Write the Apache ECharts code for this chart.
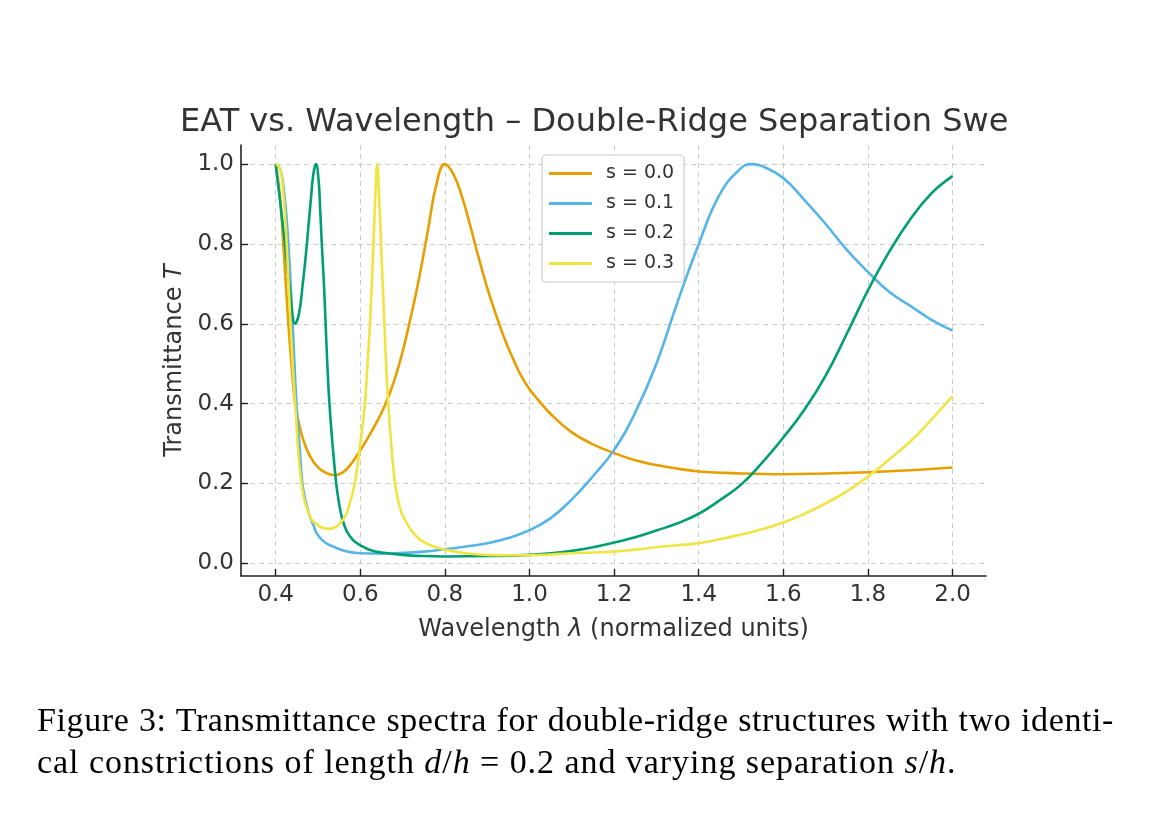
<!DOCTYPE html>
<html>
<head>
<meta charset="utf-8">
<script src="https://cdn.jsdelivr.net/npm/echarts@6/dist/echarts.min.js"></script>
<style>
  html, body { margin: 0; padding: 0; background: #fff; }
  #chart { position: absolute; left: 0; top: 0; width: 1150px; height: 820px; }
  #caption { position: absolute; left: 37px; top: 699px; width: 1077px;
    font-family: "Liberation Serif", "DejaVu Serif", serif; font-size: 34px; color: #000;
    line-height: 42px; letter-spacing: 0.6px; }
  #caption .l1 { text-align: justify; text-align-last: justify; white-space: nowrap; }
  #caption .l2 { white-space: nowrap; letter-spacing: 0.95px; }
  #caption i { font-style: italic; }
</style>
</head>
<body>
<div id="chart"></div>
<div id="caption">
  <div class="l1">Figure 3: Transmittance spectra for double-ridge structures with two identi-</div>
  <div class="l2">cal constrictions of length <i>d</i>/<i>h</i> = 0.2 and varying separation <i>s</i>/<i>h</i>.</div>
</div>
<script>
// ---- data ----
const seriesNames = ['s = 0.0', 's = 0.1', 's = 0.2', 's = 0.3'];
const seriesColors = ['#E69F00', '#56B4E9', '#009E73', '#F0E442'];

const lam00 = [0.40,0.41,0.418,0.43,0.438,0.446,0.455,0.465,0.48,0.50,0.52,0.536,0.55,0.57,0.595,0.62,0.64,0.66,0.68,0.70,0.72,0.74,0.76,0.78,0.80,0.82,0.84,0.86,0.88,0.90,0.92,0.94,0.96,0.98,1.00,1.02,1.05,1.10,1.15,1.20,1.25,1.30,1.35,1.40,1.50,1.60,1.70,1.80,1.90,2.00];
const T00   = [1.00,0.92,0.80,0.60,0.49,0.40,0.35,0.31,0.27,0.24,0.226,0.221,0.223,0.238,0.275,0.318,0.356,0.40,0.457,0.53,0.62,0.72,0.835,0.95,1.00,0.975,0.92,0.845,0.765,0.69,0.625,0.565,0.515,0.47,0.436,0.41,0.374,0.328,0.298,0.276,0.258,0.246,0.237,0.23,0.225,0.223,0.225,0.228,0.233,0.24];

const lam01 = [0.40,0.41,0.42,0.43,0.44,0.449,0.456,0.463,0.472,0.481,0.49,0.497,0.51,0.523,0.536,0.56,0.60,0.65,0.70,0.75,0.80,0.85,0.90,0.95,1.00,1.05,1.10,1.15,1.20,1.25,1.30,1.35,1.40,1.45,1.50,1.525,1.55,1.60,1.65,1.70,1.75,1.80,1.85,1.90,1.95,2.00];
const T01   = [1.00,0.99,0.93,0.80,0.60,0.40,0.30,0.20,0.15,0.117,0.093,0.075,0.058,0.048,0.042,0.032,0.025,0.024,0.026,0.029,0.035,0.042,0.05,0.063,0.083,0.113,0.16,0.218,0.284,0.378,0.50,0.655,0.80,0.925,0.99,1.00,0.995,0.965,0.91,0.85,0.785,0.73,0.68,0.645,0.61,0.583];

const lam02 = [0.40,0.41,0.422,0.434,0.446,0.455,0.464,0.472,0.477,0.483,0.489,0.495,0.501,0.505,0.509,0.514,0.518,0.522,0.527,0.535,0.543,0.549,0.556,0.568,0.583,0.60,0.623,0.65,0.70,0.75,0.80,0.90,1.00,1.05,1.10,1.15,1.20,1.25,1.30,1.35,1.40,1.45,1.50,1.55,1.60,1.65,1.70,1.75,1.80,1.85,1.90,1.95,2.00];
const T02   = [1.00,0.91,0.80,0.68,0.60,0.625,0.70,0.78,0.84,0.91,0.975,1.00,0.965,0.89,0.80,0.70,0.60,0.50,0.40,0.29,0.20,0.155,0.117,0.08,0.058,0.045,0.033,0.027,0.021,0.018,0.017,0.018,0.021,0.025,0.031,0.04,0.052,0.065,0.082,0.10,0.124,0.158,0.197,0.252,0.315,0.385,0.47,0.575,0.684,0.78,0.862,0.927,0.97];

const lam03 = [0.40,0.41,0.418,0.426,0.435,0.446,0.461,0.481,0.50,0.524,0.545,0.564,0.575,0.587,0.60,0.611,0.617,0.623,0.631,0.636,0.640,0.644,0.649,0.657,0.661,0.666,0.673,0.682,0.69,0.70,0.72,0.74,0.76,0.78,0.80,0.85,0.90,0.95,1.00,1.05,1.10,1.15,1.20,1.25,1.30,1.35,1.40,1.45,1.50,1.55,1.60,1.65,1.70,1.75,1.80,1.85,1.90,1.95,2.00];
const T03   = [1.00,0.99,0.93,0.80,0.60,0.40,0.20,0.117,0.095,0.086,0.093,0.117,0.15,0.20,0.30,0.40,0.50,0.60,0.80,0.93,1.00,0.93,0.80,0.60,0.50,0.40,0.30,0.20,0.155,0.12,0.083,0.06,0.048,0.04,0.034,0.025,0.021,0.02,0.02,0.022,0.025,0.027,0.029,0.034,0.04,0.045,0.05,0.06,0.072,0.085,0.102,0.124,0.15,0.18,0.217,0.26,0.305,0.36,0.419];

const xTicks = [0.4,0.6,0.8,1.0,1.2,1.4,1.6,1.8,2.0];
const yTicks = [0.0,0.2,0.4,0.6,0.8,1.0];

// ---- chart ----
const lams = [lam00, lam01, lam02, lam03];
const Ts = [T00, T01, T02, T03];
const FONT = 'DejaVu Sans';
const chart = echarts.init(document.getElementById('chart'), null, { renderer: 'canvas' });

const series = seriesNames.map((name, i) => ({
  name: name,
  type: 'line',
  data: lams[i].map((x, j) => [x, Ts[i][j]]),
  symbol: 'none',
  showSymbol: false,
  smooth: 0.45,
  clip: true,
  lineStyle: { color: seriesColors[i], width: 2.6 },
  itemStyle: { color: seriesColors[i] },
  z: 3 + i
}));

const option = {
  animation: false,
  backgroundColor: '#ffffff',
  textStyle: { fontFamily: FONT },
  title: {
    text: 'EAT vs. Wavelength – Double-Ridge Separation Swe',
    left: 175, top: 102,
    textStyle: { fontFamily: FONT, fontSize: 32, fontWeight: 'normal', color: '#333333' }
  },
  legend: {
    orient: 'vertical',
    left: 542, top: 155,
    padding: [9, 10, 9, 7],
    itemGap: 11,
    itemWidth: 43, itemHeight: 3,
    icon: 'rect',
    backgroundColor: '#ffffff',
    borderColor: '#cccccc', borderWidth: 1.2, borderRadius: 4,
    data: seriesNames,
    textStyle: { fontFamily: FONT, fontSize: 19, color: '#333333', padding: [0, 0, 0, 9], lineHeight: 19 }
  },
  grid: { left: 241, right: 164, top: 145, bottom: 244, containLabel: false },
  xAxis: {
    type: 'value',
    min: 0.318, max: 2.079,
    name: '{n|Wavelength }{i|λ}{n| (normalized units)}',
    nameLocation: 'middle',
    nameGap: 42,
    nameTextStyle: {
      rich: {
        n: { fontFamily: FONT, fontSize: 24, color: '#333333' },
        i: { fontFamily: FONT, fontSize: 24, fontStyle: 'italic', color: '#333333' }
      }
    },
    axisLine: { show: true, onZero: false, lineStyle: { color: '#222222', width: 1.6 } },
    axisTick: { show: true, inside: true, length: 7, customValues: xTicks, lineStyle: { color: '#222222', width: 1.4 } },
    axisLabel: { customValues: xTicks, fontFamily: FONT, fontSize: 23, color: '#333333', margin: 8,
      formatter: v => v.toFixed(1) },
    splitLine: { show: true, lineStyle: { color: '#cccccc', type: [5, 4], width: 1 } }
  },
  yAxis: {
    type: 'value',
    min: -0.032, max: 1.048,
    name: '{n|Transmittance }{i|T}',
    nameLocation: 'middle',
    nameGap: 53,
    nameTextStyle: {
      rich: {
        n: { fontFamily: FONT, fontSize: 24, color: '#333333' },
        i: { fontFamily: FONT, fontSize: 24, fontStyle: 'italic', color: '#333333' }
      }
    },
    axisLine: { show: true, onZero: false, lineStyle: { color: '#222222', width: 1.6 } },
    axisTick: { show: true, inside: true, length: 7, customValues: yTicks, lineStyle: { color: '#222222', width: 1.4 } },
    axisLabel: { customValues: yTicks, fontFamily: FONT, fontSize: 23, color: '#333333', margin: 7,
      formatter: v => v.toFixed(1) },
    splitLine: { show: true, lineStyle: { color: '#cccccc', type: [5, 4], width: 1 } }
  },
  series: series
};
chart.setOption(option);
</script>
</body>
</html>
